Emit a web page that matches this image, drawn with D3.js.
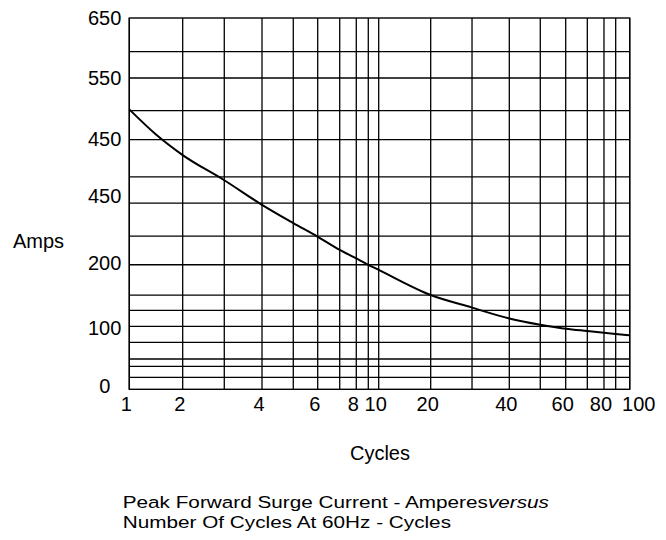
<!DOCTYPE html>
<html>
<head>
<meta charset="utf-8">
<script src="https://cdn.jsdelivr.net/npm/d3@7"></script>
<style>
  html, body { margin: 0; padding: 0; background: #fff; }
  svg { display: block; font-family: "Liberation Sans", Arial, sans-serif; }
</style>
</head>
<body>
<svg id="chart" width="666" height="540"></svg>
<script>
// vertical rules of the chart paper (cycles)
const cycleRules = [1, 2, 3, 4, 5, 6, 7, 8, 9, 10, 20, 30, 40, 50, 60, 70, 80, 90, 100];
const cycleTicks = [1, 2, 4, 6, 8, 10, 20, 40, 60, 80, 100];

// horizontal rules of the chart paper (amps)
const ampRules = [21, 40, 53, 82, 110, 138, 165, 218, 268, 326, 372, 437, 488, 545, 591];
const ampTickValues = [7, 108, 222, 339, 438, 546, 650];
const ampTickLabels = ['0', '100', '200', '450', '450', '550', '650'];

// surge curve
const cycles = [1, 1.5, 2, 3, 4, 5, 6, 7, 8, 9, 10, 20, 30, 40, 50, 60, 70, 80, 90, 100];
const amps = [490, 446, 410, 366, 323, 291, 267, 244, 229, 218, 209, 165, 143, 124, 113, 106, 102, 99, 97, 94.5];

const margin = { top: 18, left: 129.3 };
const width = 500.4;
const height = 371.3;

const svg = d3.select('#chart');
const g = svg.append('g')
  .attr('transform', `translate(${margin.left},${margin.top})`);

// the paper is hand ruled, so the log decades are not evenly split:
// map each rule to where it sits across the plot
const ruleFrac = [0, .1067, .1898, .2652, .3277, .3765, .4205, .4536, .4776, .4984,
  .6023, .6849, .7594, .8213, .8721, .9153, .9486, .9720, 1];
const x = d3.scaleLinear()
  .domain(cycleRules)
  .range(ruleFrac.map(f => f * width));

const y = d3.scaleLinear()
  .domain([0, 650])
  .range([height, 0]);

// grid
g.selectAll('.vrule')
  .data(cycleRules)
  .enter().append('line')
  .attr('x1', d => x(d)).attr('x2', d => x(d))
  .attr('y1', 0).attr('y2', height)
  .attr('stroke', '#000').attr('stroke-width', 1.3);

g.selectAll('.hrule')
  .data(ampRules)
  .enter().append('line')
  .attr('x1', 0).attr('x2', width)
  .attr('y1', d => y(d)).attr('y2', d => y(d))
  .attr('stroke', '#000').attr('stroke-width', 1.3);

// frame
g.append('rect')
  .attr('width', width).attr('height', height)
  .attr('fill', 'none')
  .attr('stroke', '#000').attr('stroke-width', 1.4);

// tick labels
g.selectAll('.xlab')
  .data(cycleTicks)
  .enter().append('text')
  .attr('x', d => x(d))
  .attr('dx', (d, i, n) => i === n.length - 1 ? 9 : -3)
  .attr('y', height + 22)
  .attr('text-anchor', 'middle')
  .style('font-size', '20px')
  .text(d => d);

g.selectAll('.ylab')
  .data(ampTickValues)
  .enter().append('text')
  .attr('x', (d, i) => i === 0 ? -19 : -8)
  .attr('y', d => y(d))
  .attr('dy', '0.36em')
  .attr('text-anchor', 'end')
  .style('font-size', '20px')
  .text((d, i) => ampTickLabels[i]);

// curve
const pts = cycles.map((c, i) => [c, amps[i]]);
const line = d3.line()
  .x(d => x(d[0]))
  .y(d => y(d[1]))
  .curve(d3.curveMonotoneX);

g.append('path')
  .datum(pts)
  .attr('d', line)
  .attr('fill', 'none')
  .attr('stroke', '#000')
  .attr('stroke-width', 2);

// axis titles
svg.append('text')
  .attr('x', 13).attr('y', 248)
  .style('font-size', '20px')
  .text('Amps');

svg.append('text')
  .attr('x', 380).attr('y', 460)
  .attr('text-anchor', 'middle')
  .style('font-size', '20px')
  .text('Cycles');

// caption (wide-set type)
const cap = svg.append('g')
  .attr('transform', 'translate(122.7,0) scale(1.22,1)')
  .style('font-size', '17px');

const l1 = cap.append('text').attr('x', 0).attr('y', 508);
l1.append('tspan').text('Peak Forward Surge Current - Amperes');
l1.append('tspan').style('font-style', 'italic').text('versus');

cap.append('text')
  .attr('x', 0).attr('y', 528)
  .text('Number Of Cycles At 60Hz - Cycles');
</script>
</body>
</html>
